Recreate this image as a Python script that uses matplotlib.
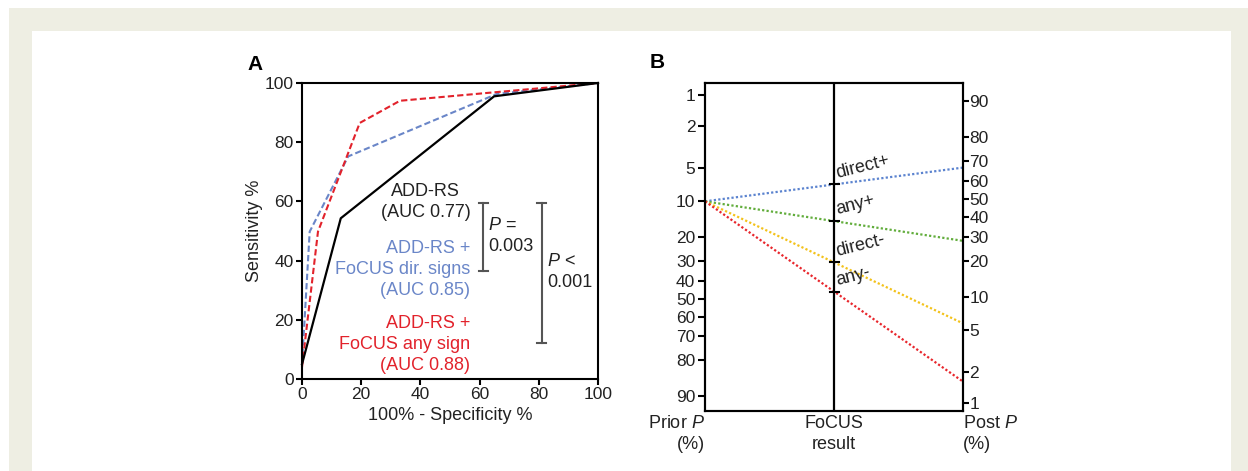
import numpy as np
import matplotlib
matplotlib.use("Agg")
import matplotlib.pyplot as plt
from matplotlib.patches import Rectangle

plt.rcParams['font.family'] = ['Liberation Sans', 'DejaVu Sans']
plt.rcParams['mathtext.fontset'] = 'custom'
plt.rcParams['mathtext.rm'] = 'Liberation Sans'
plt.rcParams['mathtext.it'] = 'Liberation Sans:italic'

# panel A: ROC curves (100% - specificity, sensitivity)
fpr_addrs = [0, 13.1, 64.9, 100]
sens_addrs = [5, 54.3, 95.5, 100]
fpr_dir = [0, 2.6, 15.6, 65.8, 100]
sens_dir = [5, 49.8, 75.2, 96.3, 100]
fpr_any = [0, 5.4, 19.5, 33.1, 100]
sens_any = [4, 49.8, 86.5, 94.0, 100]

# panel B: Fagan nomogram
prior_p = 10
results = ['direct+', 'any+', 'direct-', 'any-']
post_p = [67, 28, 5.7, 1.6]
res_colors = ['#5b83cf', '#62ad3c', '#f3c21b', '#e8262c']
left_ticks = [1, 2, 5, 10, 20, 30, 40, 50, 60, 70, 80, 90]
right_ticks = [90, 80, 70, 60, 50, 40, 30, 20, 10, 5, 2, 1]

BLUE = '#6a86c8'
RED = '#e2222b'
GRAY = '#555555'
INK = '#222222'
FS = 13
TFS = 12.5
LS = 1.3

def logit(p):
    p = np.asarray(p, dtype=float) / 100.0
    return np.log(p / (1 - p))

OFF = 2.25
def left_pos(p):
    return -logit(p)

def right_pos(p):
    return logit(p) + OFF

fig = plt.figure(figsize=(12.48, 4.71), dpi=100)
fig.patch.set_facecolor('white')
fig.patches.append(Rectangle((9 / 1248, 0), 1 - 9 / 1248, 463 / 471, transform=fig.transFigure,
                             facecolor='#eeeee3', edgecolor='none', zorder=-10))
fig.patches.append(Rectangle((32 / 1248, 0), (1231 - 32) / 1248, 440 / 471, transform=fig.transFigure,
                             facecolor='white', edgecolor='none', zorder=-9))

# ---------- panel A ----------
ax = fig.add_axes([302 / 1248, (471 - 379) / 471, 296 / 1248, 296 / 471])
ax.plot(fpr_addrs, sens_addrs, color='black', lw=1.6, clip_on=False, zorder=3)
ax.plot(fpr_dir, sens_dir, color=BLUE, lw=1.5, ls=(0, (3, 1.5)), clip_on=False)
ax.plot(fpr_any, sens_any, color=RED, lw=1.5, ls=(0, (3, 1.5)), clip_on=False)
ax.set_xlim(0, 100)
ax.set_ylim(0, 100)
ax.set_xticks(range(0, 101, 20))
ax.set_yticks(range(0, 101, 20))
for s in ax.spines.values():
    s.set_linewidth(1.5)
ax.tick_params(width=1.5, length=4, labelsize=TFS, pad=2, labelcolor=INK)
ax.set_xlabel('100% - Specificity %', fontsize=FS, labelpad=3, color=INK)
ax.set_ylabel('Sensitivity %', fontsize=FS, labelpad=1, color=INK)

ax.text(56.9, 59.8, 'ADD-RS\n(AUC 0.77)', ha='right', va='center', multialignment='center',
        fontsize=FS, linespacing=LS, color=INK)
ax.text(56.9, 36.9, 'ADD-RS +\nFoCUS dir. signs\n(AUC 0.85)', ha='right', va='center',
        multialignment='right', fontsize=FS, linespacing=LS, color=BLUE)
ax.text(56.9, 11.7, 'ADD-RS +\nFoCUS any sign\n(AUC 0.88)', ha='right', va='center',
        multialignment='right', fontsize=FS, linespacing=LS, color=RED)

def bracket(x, y0, y1, w):
    ax.plot([x, x], [y0, y1], color=GRAY, lw=1.5)
    ax.plot([x - w, x + w], [y0, y0], color=GRAY, lw=1.5)
    ax.plot([x - w, x + w], [y1, y1], color=GRAY, lw=1.5)

bracket(61.3, 59.6, 36.6, 1.4)
bracket(81.0, 59.6, 12.1, 1.6)
ax.text(62.9, 48.4, '$P$ =\n0.003', ha='left', va='center', fontsize=FS, linespacing=LS, color=INK)
ax.text(82.7, 36.2, '$P$ <\n0.001', ha='left', va='center', fontsize=FS, linespacing=LS, color=INK)
fig.text(247 / 1248, 1 - 64 / 471, 'A', fontsize=15, fontweight='bold', ha='left', va='center')

# ---------- panel B ----------
bx = fig.add_axes([705 / 1248, (471 - 410.7) / 471, (963.3 - 705) / 1248, 328 / 471])
ylo, yhi = -2.52, 4.87
bx.set_xlim(0, 1)
bx.set_ylim(ylo, yhi)
bx.set_yticks(left_pos(left_ticks))
bx.set_yticklabels([str(t) for t in left_ticks])
bx.set_xticks([])
for s in bx.spines.values():
    s.set_linewidth(1.5)
bx.tick_params(axis='y', width=1.5, length=5, labelsize=TFS, pad=2, labelcolor=INK)

bx2 = bx.twinx()
bx2.set_ylim(ylo, yhi)
bx2.set_yticks(right_pos(right_ticks))
bx2.set_yticklabels([str(t) for t in right_ticks])
bx2.tick_params(axis='y', width=1.5, length=4, labelsize=TFS, pad=0.5, labelcolor=INK)
for s in bx2.spines.values():
    s.set_linewidth(1.5)

bx.plot([0.5, 0.5], [ylo, yhi], color='black', lw=1.6, zorder=4)

y0 = left_pos(prior_p)
for name, pp, c in zip(results, post_p, res_colors):
    y1 = right_pos(pp)
    bx.plot([0, 1], [y0, y1], color=c, lw=1.6, ls=(0, (1, 1)), clip_on=False)
    ym = (y0 + y1) / 2
    bx.plot([0.483, 0.517], [ym, ym], color='black', lw=1.5, zorder=5)
    bx.annotate(name, (0.5, ym), xytext=(3, 2), textcoords='offset points', ha='left', va='bottom',
                rotation=14, rotation_mode='anchor', fontsize=FS, color=INK)

bx.text(0, -0.012, 'Prior $P$\n(%)', transform=bx.transAxes, ha='right', va='top',
        multialignment='right', fontsize=FS, linespacing=LS, color=INK)
bx.text(0.5, -0.012, 'FoCUS\nresult', transform=bx.transAxes, ha='center', va='top',
        multialignment='center', fontsize=FS, linespacing=LS, color=INK)
bx.text(1.0, -0.012, 'Post $P$\n(%)', transform=bx.transAxes, ha='left', va='top',
        multialignment='left', fontsize=FS, linespacing=LS, color=INK)
fig.text(650 / 1248, 1 - 62 / 471, 'B', fontsize=15, fontweight='bold', ha='left', va='center')

fig.savefig('out.png', dpi=100)
